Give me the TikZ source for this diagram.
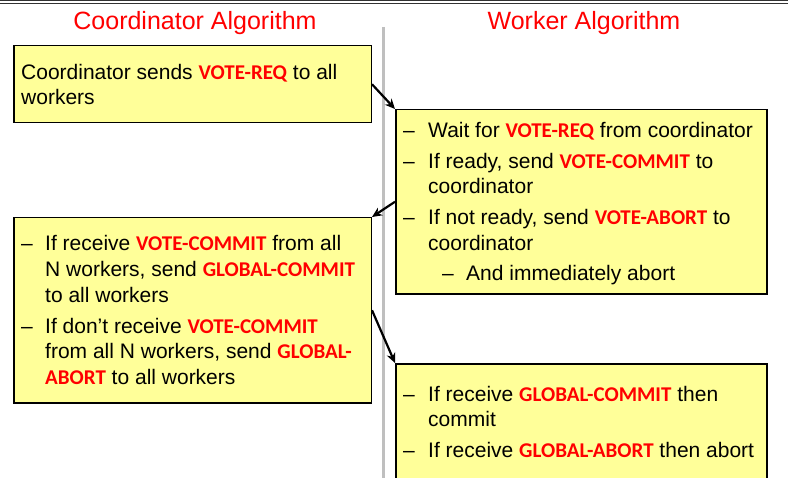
\documentclass[tikz,border=0pt]{standalone}
\usepackage{fontspec}
\setmainfont{Liberation Sans}
\newfontfamily\calfont{Carlito}
\usetikzlibrary{arrows.meta}
\definecolor{boxfill}{RGB}{255,255,153}
\definecolor{divgray}{RGB}{191,191,191}
\newcommand\kw[1]{{\calfont\bfseries\color{red}#1}}

\begin{document}
\begin{tikzpicture}[x=1pt,y=-1pt,
  box/.style={draw=black, line width=1.5pt, fill=boxfill, anchor=north west, inner sep=0pt},
  txt/.style={anchor=base west, inner sep=0pt, font=\fontsize{21}{25}\selectfont},
  ttl/.style={anchor=base, inner sep=0pt, text=red, font=\fontsize{25}{30}\selectfont},
  link/.style={line width=2.2pt, -{Stealth[length=10pt,width=9pt]}}]

\useasboundingbox (0,0) rectangle (789,478);

% header rules and column divider
\draw[black!80, line width=1.3pt] (0,0.7) -- (788,0.7);
\draw[black!80, line width=1pt] (0,3.2) -- (788,3.2);
\draw[divgray, line width=3pt] (383.5,27) -- (383.5,478);

% column titles
\node[ttl] (tcoord) at (195,30) {Coordinator Algorithm};
\node[ttl] (twork) at (584,30) {Worker Algorithm};

% boxes
\node[box, minimum width=357.5pt, minimum height=77pt] (cbox1) at (13,45) {};
\node[box, minimum width=371pt, minimum height=184pt] (wbox1) at (395,109) {};
\node[box, minimum width=357.5pt, minimum height=185pt] (cbox2) at (13,217) {};
\node[box, minimum width=371pt, minimum height=140pt] (wbox2) at (395,363) {};

% coordinator: first step
\node[txt] (c1a) at (21,79.5) {Coordinator sends \kw{VOTE-REQ} to all};
\node[txt] (c1b) at (21,104.5) {workers};

% worker: first step
\node[txt] (w1d1) at (403,138) {–};
\node[txt] (w1a) at (428,138) {Wait for \kw{VOTE-REQ} from coordinator};
\node[txt] (w1d2) at (403,168.5) {–};
\node[txt] (w1b) at (428,168.5) {If ready, send \kw{VOTE-COMMIT} to};
\node[txt] (w1c) at (428,194) {coordinator};
\node[txt] (w1d3) at (403,225) {–};
\node[txt] (w1d) at (428,225) {If not ready, send \kw{VOTE-ABORT} to};
\node[txt] (w1e) at (428,250.5) {coordinator};
\node[txt] (w1d4) at (442,280.5) {–};
\node[txt] (w1f) at (466,280.5) {And immediately abort};

% coordinator: decision
\node[txt] (c2d1) at (21,251) {–};
\node[txt] (c2a) at (45,251) {If receive \kw{VOTE-COMMIT} from all};
\node[txt] (c2b) at (45,276.5) {N workers, send \kw{GLOBAL-COMMIT}};
\node[txt] (c2c) at (45,302) {to all workers};
\node[txt] (c2d2) at (21,333) {–};
\node[txt] (c2d) at (45,333) {If don’t receive \kw{VOTE-COMMIT}};
\node[txt] (c2e) at (45,358.5) {from all N workers, send \kw{GLOBAL-}};
\node[txt] (c2f) at (45,384) {\kw{ABORT} to all workers};

% worker: outcome
\node[txt] (w2d1) at (403,401) {–};
\node[txt] (w2a) at (428,401) {If receive \kw{GLOBAL-COMMIT} then};
\node[txt] (w2b) at (428,426.5) {commit};
\node[txt] (w2d2) at (403,457) {–};
\node[txt] (w2c) at (428,457) {If receive \kw{GLOBAL-ABORT} then abort};

% message flow
\draw[link] (cbox1.east) -- (wbox1.north west);
\draw[link] (wbox1.west) -- (cbox2.north east);
\draw[link] (cbox2.east) -- (wbox2.north west);

\end{tikzpicture}
\end{document}
